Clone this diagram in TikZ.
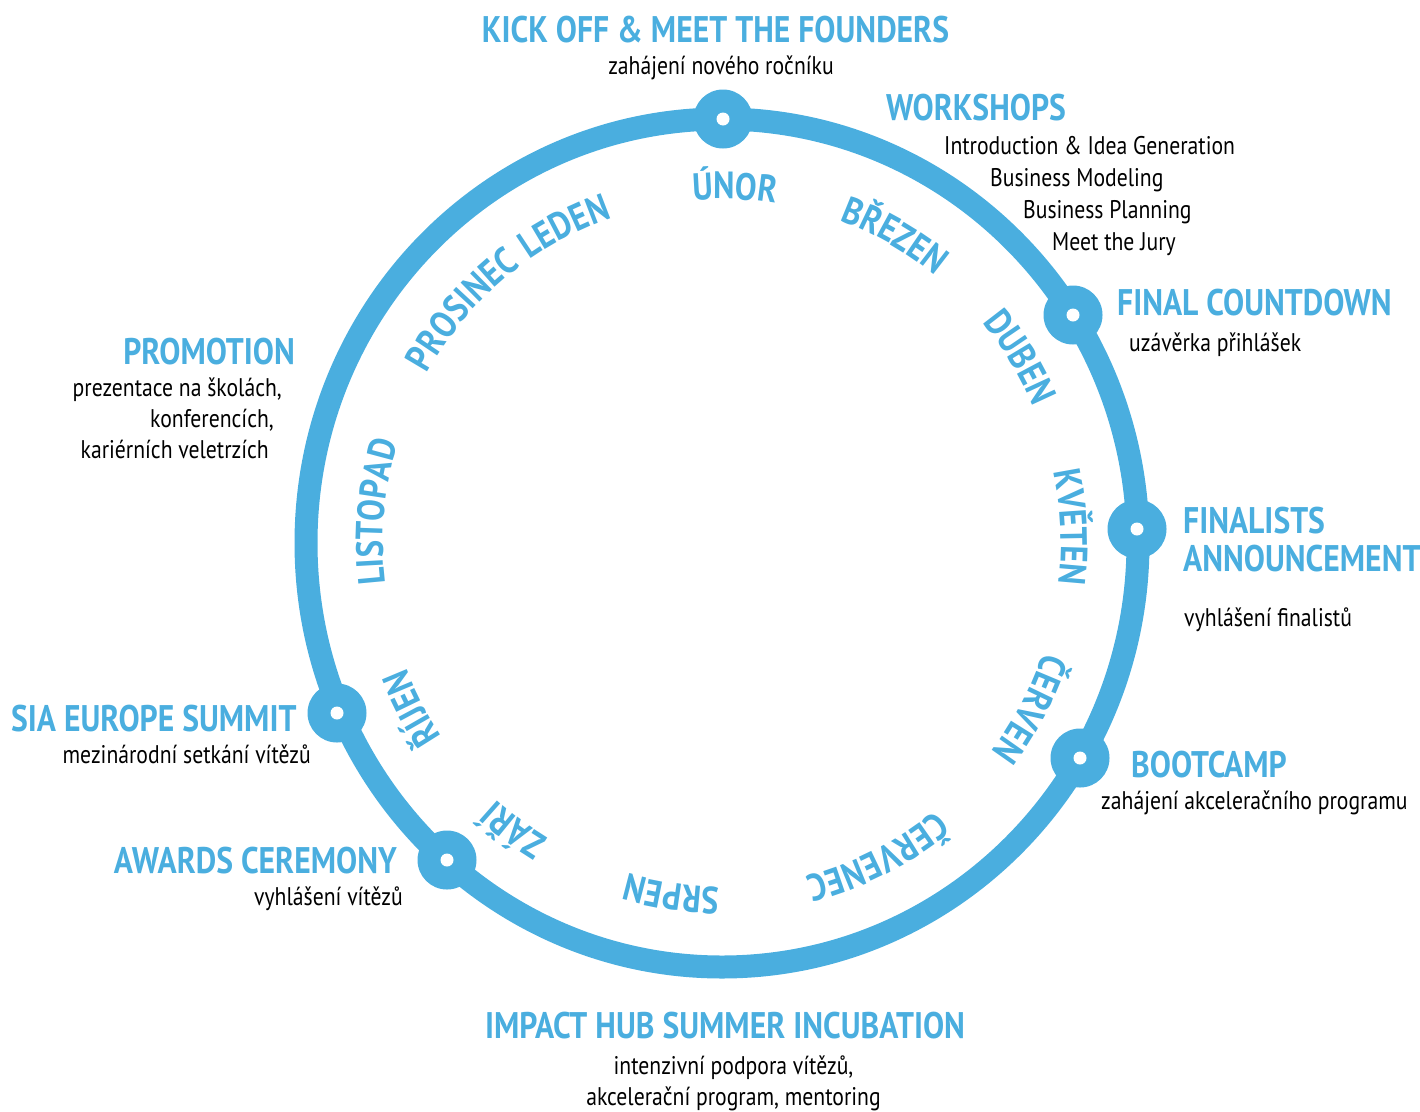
\documentclass[tikz,border=0pt]{standalone}
\usepackage{fontspec}
\usetikzlibrary{decorations.text}
\definecolor{sia}{RGB}{74,174,223}
\newfontfamily\hdfont{PT Sans}[FakeStretch=0.855]
\newfontfamily\txfont{PT Sans}[FakeStretch=0.85]
\newcommand\monthfnt{\hdfont\bfseries\fontsize{38}{40}\selectfont}
\newcommand\monthlabel[2]{%
  \path[decorate, decoration={text along path, text={|\monthfnt|#2}, text align=center, text color=sia}]
    (#1+45:339 and 344) arc[start angle=#1+45, end angle=#1-45, x radius=339, y radius=344];}
\tikzset{
  head/.style={font=\hdfont\bfseries\fontsize{37}{40}\selectfont, text=sia, inner sep=0pt},
  body/.style={font=\txfont\fontsize{25.5}{32}\selectfont, text=black, inner sep=0pt},
  dot/.style={circle, fill=sia, minimum size=59pt, inner sep=0pt},
  ring/.style={draw=sia, line width=23pt}
}
\begin{document}
\begin{tikzpicture}[x=1pt,y=1pt]
\useasboundingbox (0,0) rectangle (1420,-1111);
% ring
\draw[ring] (722,-543) ellipse [x radius=416, y radius=424];
% dots
\foreach \n/\p in {d1/{(723,-119)}, d2/{(1073,-315)}, d3/{(1137,-529)}, d4/{(1080,-758)}, d5/{(447,-860)}, d6/{(337,-713)}}{
  \node[dot] (\n) at \p {};
  \fill[white] (\n.center) circle (6.5);
}
% months
\begin{scope}[shift={(722,-543)}]
  \monthlabel{87.9}{ÚNOR}
  \monthlabel{60.5}{BŘEZEN}
  \monthlabel{31.8}{DUBEN}
  \monthlabel{2.6}{KVĚTEN}
  \monthlabel{-28.1}{ČERVEN}
  \monthlabel{-63.5}{ČERVENEC}
  \monthlabel{-98.2}{SRPEN}
  \monthlabel{-126.2}{ZÁŘÍ}
  \monthlabel{-152.1}{ŘÍJEN}
  \monthlabel{174.9}{LISTOPAD}
  \monthlabel{138.3}{PROSINEC}
  \monthlabel{116.6}{LEDEN}
\end{scope}
% texts
\node[head, anchor=base] (kick) at (715.5,-42) {KICK OFF \& MEET THE FOUNDERS};
\node[body, anchor=base] (kicks) at (721,-74) {zahájení nového ročníku};
\node[head, anchor=base west] (work) at (886,-120) {WORKSHOPS};
\node[body, anchor=base west] (w1) at (944,-154) {Introduction \& Idea Generation};
\node[body, anchor=base west] (w2) at (990,-186) {Business Modeling};
\node[body, anchor=base west] (w3) at (1023,-218) {Business Planning};
\node[body, anchor=base west] (w4) at (1052,-250) {Meet the Jury};
\node[head, anchor=base west] (final) at (1117,-315) {FINAL COUNTDOWN};
\node[body, anchor=base west] (finals) at (1129,-351) {uzávěrka přihlášek};
\node[head, anchor=base west] (fin1) at (1183,-533) {FINALISTS};
\node[head, anchor=base west] (fin2) at (1183,-571) {ANNOUNCEMENT};
\node[body, anchor=base west] (fins) at (1184,-626) {vyhlášení finalistů};
\node[head, anchor=base west] (boot) at (1131,-777) {BOOTCAMP};
\node[body, anchor=base west] (boots) at (1101,-809) {zahájení akceleračního programu};
\node[head, anchor=base] (impact) at (725,-1038) {IMPACT HUB SUMMER INCUBATION};
\node[body, anchor=base] (imp1) at (733.5,-1074) {intenzivní podpora vítězů,};
\node[body, anchor=base] (imp2) at (733.5,-1105) {akcelerační program, mentoring};
\node[head, anchor=base east] (award) at (397,-873) {AWARDS CEREMONY};
\node[body, anchor=base east] (awards) at (403,-905) {vyhlášení vítězů};
\node[head, anchor=base west] (sia) at (11,-731) {SIA EUROPE SUMMIT};
\node[body, anchor=base east] (sias) at (311,-763) {mezinárodní setkání vítězů};
\node[head, anchor=base east] (promo) at (295,-364) {PROMOTION};
\node[body, anchor=base east] (p1) at (282,-396) {prezentace na školách,};
\node[body, anchor=base east] (p2) at (274,-427) {konferencích,};
\node[body, anchor=base east] (p3) at (269,-458) {kariérních veletrzích};
\end{tikzpicture}
\end{document}
